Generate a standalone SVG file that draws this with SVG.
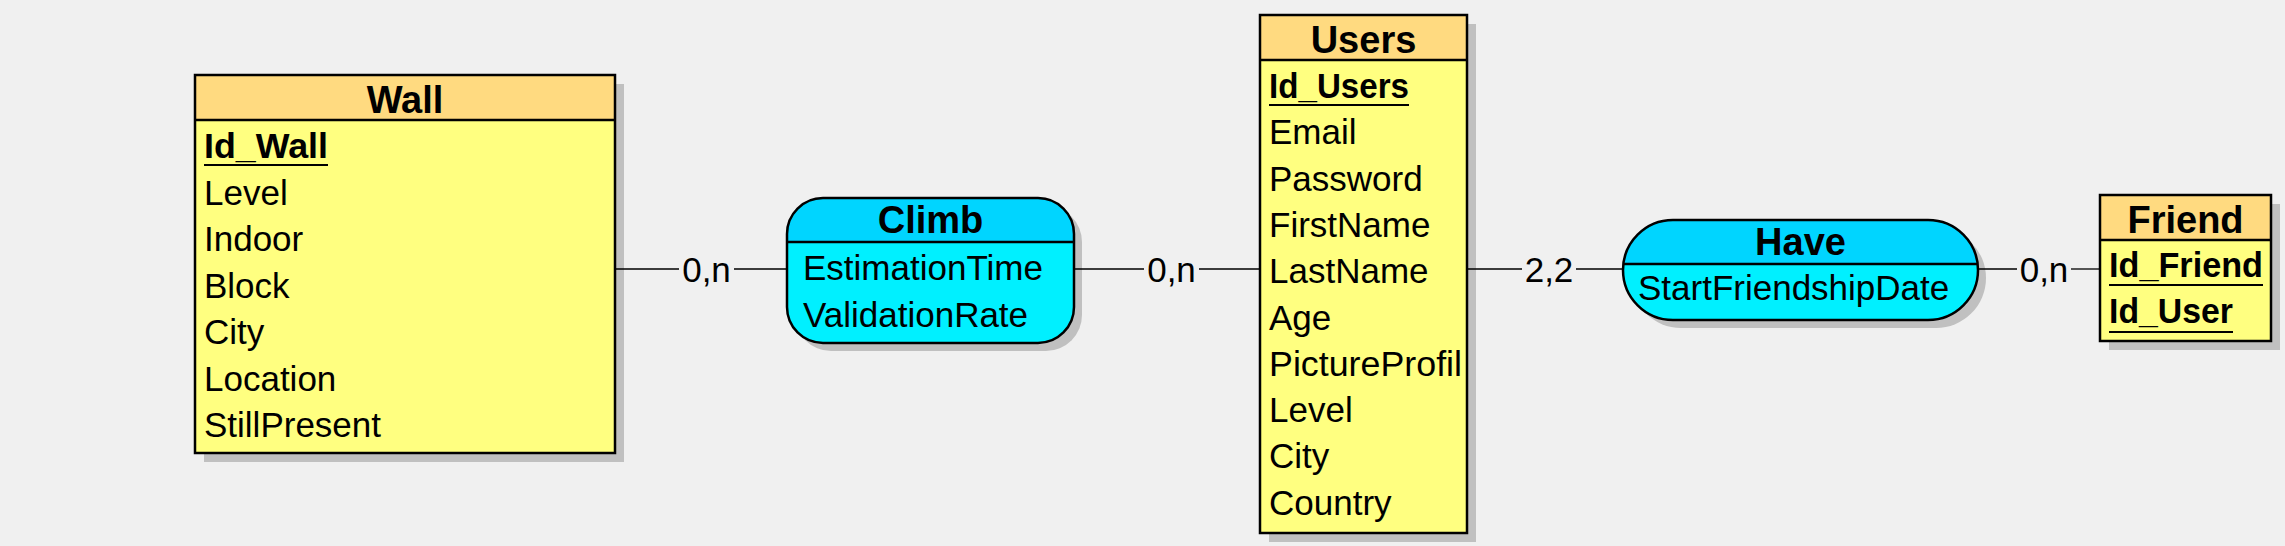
<svg xmlns="http://www.w3.org/2000/svg" width="2285" height="546" viewBox="0 0 2285 546">
<style>
text{font-family:"Liberation Sans",Arial,sans-serif;fill:#000}
.att{font-size:35px}
.key{font-size:35px;font-weight:bold}
.hd{font-size:38px;font-weight:bold;text-anchor:middle}
.lbl{font-size:35px;text-anchor:middle}
.ehd{fill:#FFDA80;stroke:none}
.ebody{fill:#FFFF80;stroke:none}
.rhd{fill:#00D5FF;stroke:none}
.rbody{fill:#00F0FF;stroke:none}
.shadow{fill:#C0C0C0;stroke:none}
.outline{fill:none;stroke:#000;stroke-width:2.5}
.div{stroke:#000;stroke-width:2.5}
.ul{stroke:#000;stroke-width:2.2}
.conn line{stroke:#000;stroke-width:1.3}
</style>
<rect width="2285" height="546" fill="#F0F0F0"/>

<g id="Wall">
  <rect class="shadow" x="204" y="84" width="420" height="378"/>
  <rect class="ebody" x="195" y="75" width="420" height="378"/>
  <rect class="ehd" x="195" y="75" width="420" height="45"/>
  <line class="div" x1="195" y1="120" x2="615" y2="120"/>
  <rect class="outline" x="195" y="75" width="420" height="378"/>
  <text class="hd" x="405" y="113">Wall</text>
  <text class="key" x="204" y="158" textLength="124" lengthAdjust="spacingAndGlyphs">Id_Wall</text>
  <line class="ul" x1="204" y1="165" x2="328" y2="165"/>
  <text class="att" x="204" y="204.5">Level</text>
  <text class="att" x="204" y="251">Indoor</text>
  <text class="att" x="204" y="297.5">Block</text>
  <text class="att" x="204" y="344">City</text>
  <text class="att" x="204" y="390.5">Location</text>
  <text class="att" x="204" y="437">StillPresent</text>
</g>

<g id="Climb">
  <rect class="shadow" x="795" y="206" width="287" height="145" rx="36" ry="36"/>
  <rect class="rbody" x="787" y="198" width="287" height="145" rx="36" ry="36"/>
  <path class="rhd" d="M787,242 V234 A36,36 0 0 1 823,198 H1038 A36,36 0 0 1 1074,234 V242 Z"/>
  <line class="div" x1="787" y1="242" x2="1074" y2="242"/>
  <rect class="outline" x="787" y="198" width="287" height="145" rx="36" ry="36"/>
  <text class="hd" x="930.5" y="233">Climb</text>
  <text class="att" x="803" y="280">EstimationTime</text>
  <text class="att" x="803" y="327">ValidationRate</text>
</g>

<g id="Users">
  <rect class="shadow" x="1269" y="24" width="207" height="518"/>
  <rect class="ebody" x="1260" y="15" width="207" height="518"/>
  <rect class="ehd" x="1260" y="15" width="207" height="45"/>
  <line class="div" x1="1260" y1="60" x2="1467" y2="60"/>
  <rect class="outline" x="1260" y="15" width="207" height="518"/>
  <text class="hd" x="1363.5" y="53">Users</text>
  <text class="key" x="1269" y="98" textLength="140" lengthAdjust="spacingAndGlyphs">Id_Users</text>
  <line class="ul" x1="1269" y1="105" x2="1409" y2="105"/>
  <text class="att" x="1269" y="144.3">Email</text>
  <text class="att" x="1269" y="190.6">Password</text>
  <text class="att" x="1269" y="236.9">FirstName</text>
  <text class="att" x="1269" y="283.2">LastName</text>
  <text class="att" x="1269" y="329.5">Age</text>
  <text class="att" x="1269" y="375.8" textLength="193" lengthAdjust="spacingAndGlyphs">PictureProfil</text>
  <text class="att" x="1269" y="422.1">Level</text>
  <text class="att" x="1269" y="468.4">City</text>
  <text class="att" x="1269" y="514.7">Country</text>
</g>

<g id="Have">
  <rect class="shadow" x="1631" y="228" width="355" height="100" rx="50" ry="50"/>
  <rect class="rbody" x="1623" y="220" width="355" height="100" rx="50" ry="50"/>
  <path class="rhd" d="M1623.5,264 A50,50 0 0 1 1673,220 H1928 A50,50 0 0 1 1977.5,264 Z"/>
  <line class="div" x1="1623.5" y1="264" x2="1977.5" y2="264"/>
  <rect class="outline" x="1623" y="220" width="355" height="100" rx="50" ry="50"/>
  <text class="hd" x="1800.5" y="255">Have</text>
  <text class="att" x="1638" y="300">StartFriendshipDate</text>
</g>

<g id="Friend">
  <rect class="shadow" x="2109" y="204" width="171" height="146"/>
  <rect class="ebody" x="2100" y="195" width="171" height="146"/>
  <rect class="ehd" x="2100" y="195" width="171" height="45"/>
  <line class="div" x1="2100" y1="240" x2="2271" y2="240"/>
  <rect class="outline" x="2100" y="195" width="171" height="146"/>
  <text class="hd" x="2185.5" y="233">Friend</text>
  <text class="key" x="2109" y="277" textLength="154" lengthAdjust="spacingAndGlyphs">Id_Friend</text>
  <line class="ul" x1="2109" y1="285" x2="2263" y2="285"/>
  <text class="key" x="2109" y="323" textLength="124" lengthAdjust="spacingAndGlyphs">Id_User</text>
  <line class="ul" x1="2109" y1="332" x2="2233" y2="332"/>
</g>

<g id="connectors" class="conn">
  <line x1="616" y1="269" x2="679" y2="269"/>
  <line x1="734" y1="269" x2="786" y2="269"/>
  <line x1="1075" y1="269" x2="1144" y2="269"/>
  <line x1="1199" y1="269" x2="1259" y2="269"/>
  <line x1="1468" y1="269" x2="1522" y2="269"/>
  <line x1="1576" y1="269" x2="1622" y2="269"/>
  <line x1="1979" y1="269" x2="2017" y2="269"/>
  <line x1="2071" y1="269" x2="2099" y2="269"/>
  <text class="lbl" x="706.5" y="282">0,n</text>
  <text class="lbl" x="1171.5" y="282">0,n</text>
  <text class="lbl" x="1549" y="282">2,2</text>
  <text class="lbl" x="2044" y="282">0,n</text>
</g>
</svg>
